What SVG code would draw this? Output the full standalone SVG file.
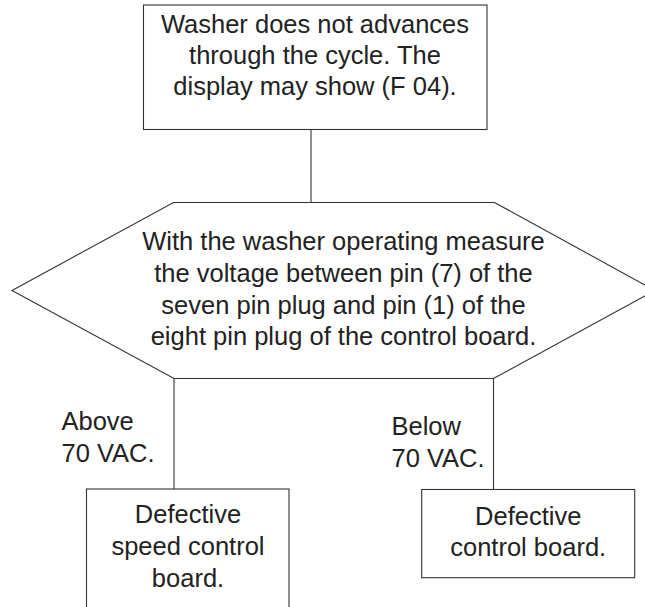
<svg xmlns="http://www.w3.org/2000/svg" width="645" height="607" viewBox="0 0 645 607">
<style>
.box{fill:#fff;stroke:#333;stroke-width:1.1}
.ln{fill:none;stroke:#333;stroke-width:1.1}
text{font-family:"Liberation Sans",Arial,sans-serif;font-size:25.5px;fill:#222}
.c{text-anchor:middle}
</style>
<rect width="645" height="607" fill="#fff"/>
<g id="connectors">
<line class="ln" x1="311" y1="129.5" x2="311" y2="202.5"/>
<line class="ln" x1="174" y1="378.5" x2="174" y2="489"/>
<line class="ln" x1="493.5" y1="378.5" x2="493.5" y2="489.5"/>
</g>
<g id="start">
<rect class="box" x="143.5" y="5" width="343.5" height="124.5"/>
<text class="c" x="315" y="33">Washer does not advances</text>
<text class="c" x="315" y="64">through the cycle. The</text>
<text class="c" x="315" y="95">display may show (F 04).</text>
</g>
<g id="decision">
<polygon class="box" points="12,290.5 173.5,202.5 494.5,202.5 655,290.5 493.5,378.5 174,378.5"/>
<text class="c" x="343.5" y="249.5">With the washer operating measure</text>
<text class="c" x="343.5" y="281.5">the voltage between pin (7) of the</text>
<text class="c" x="343.5" y="313.5">seven pin plug and pin (1) of the</text>
<text class="c" x="343.5" y="345">eight pin plug of the control board.</text>
</g>
<g id="label-above">
<text x="61.5" y="429.5">Above</text>
<text x="61.5" y="461.5">70 VAC.</text>
</g>
<g id="label-below">
<text x="391.5" y="435">Below</text>
<text x="391.5" y="466.5">70 VAC.</text>
</g>
<g id="speed-board">
<rect class="box" x="86.5" y="489" width="202.5" height="130"/>
<text class="c" x="188" y="523">Defective</text>
<text class="c" x="188" y="554.5">speed control</text>
<text class="c" x="188" y="586.5">board.</text>
</g>
<g id="control-board">
<rect class="box" x="421.7" y="489.5" width="213" height="88.2"/>
<text class="c" x="528.2" y="525">Defective</text>
<text class="c" x="528.2" y="556">control board.</text>
</g>
</svg>
